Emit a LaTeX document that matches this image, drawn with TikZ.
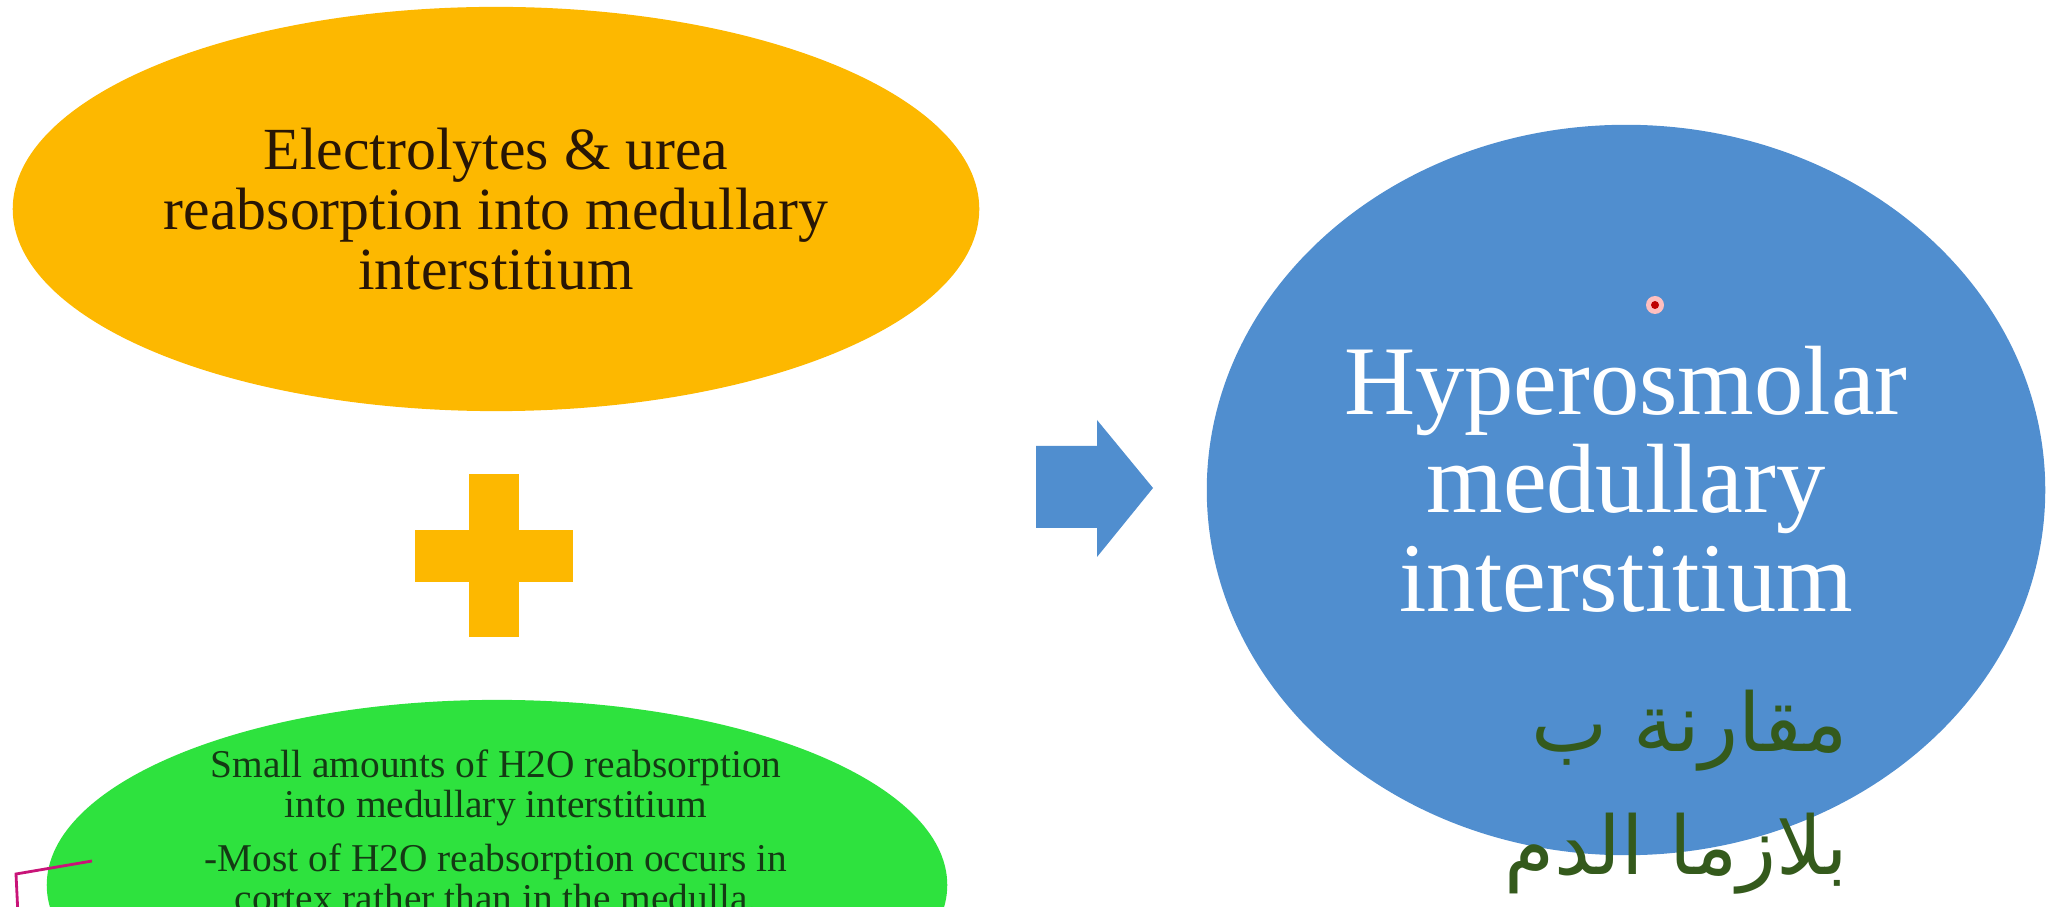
\documentclass[tikz,border=0pt]{standalone}
\usepackage{fontspec}
\setmainfont{Liberation Serif}
\newfontfamily\arabicfont[Script=Arabic]{DejaVu Sans}
\TeXXeTstate=1
\usetikzlibrary{shapes.geometric}
\definecolor{elecOrange}{RGB}{253,184,0}
\definecolor{elecText}{RGB}{40,22,5}
\definecolor{osmoBlue}{RGB}{80,142,207}
\definecolor{waterGreen}{RGB}{46,226,62}
\definecolor{waterText}{RGB}{20,58,20}
\definecolor{arabGreen}{RGB}{52,90,28}
\definecolor{penPink}{RGB}{200,20,120}
\tikzset{
  blob/.style = {ellipse, inner sep = 0pt, align = center},
  bar/.style = {fill = elecOrange, draw = none}
}

\begin{document}
\begin{tikzpicture}[x = 0.01cm, y = -0.01cm]
		\useasboundingbox (0, 0) rectangle (2061, 907);
		%%%%%%%%%%%%%
		\node[blob, fill = elecOrange, minimum width = 9.66cm, minimum height = 4.04cm,
			font = \fontsize{17}{17}\selectfont, text = elecText] (elec) at (496, 209)
			{Electrolytes \& urea\\ reabsorption into medullary\\ interstitium};
		\node[blob, fill = osmoBlue, minimum width = 8.38cm, minimum height = 7.30cm] (osmo) at (1626, 490) {};
		\node[blob, fill = waterGreen, minimum width = 9.0cm, minimum height = 3.7cm] (water) at (497, 885) {};
		%%%%%%%%%%%%%
		\node[align = center, text = white, font = \fontsize{28}{28}\selectfont] (hyper) at (1626, 479)
			{Hyperosmolar\\ medullary\\ interstitium};
		\node[align = center, text = waterText, font = \fontsize{11.2}{11.4}\selectfont] (small) at (496, 788)
			{Small amounts of H2O reabsorption\\ into medullary interstitium};
		\node[align = center, text = waterText, font = \fontsize{11.2}{11.4}\selectfont] (most) at (496, 878)
			{-Most of H2O reabsorption occurs in\\ cortex rather than in the medulla.};
		\node[align = right, text = arabGreen, font = \fontsize{23}{35}\arabicfont, anchor = north east] (plasma) at (1860, 678)
			{\beginR مقارنة ب\endR\\ \beginR بلازما الدم\endR};
		%%%%%%%%%%%%%
		\fill[bar] (415, 530) rectangle (573, 582);
		\fill[bar] (469, 474) rectangle (519, 637);
		\fill[osmoBlue] (1036, 446) -- (1097, 446) -- (1097, 420) -- (1153, 488)
			-- (1097, 557) -- (1097, 528) -- (1036, 528) -- cycle;
		%%%%%%%%%%%%%
		\fill[red!25] (1655, 305) circle (9);
		\fill[red!75!black] (1655, 305) circle (4);
		\draw[penPink, thick] (92, 861) -- (16, 874) -- (18, 915);
\end{tikzpicture}
\end{document}
